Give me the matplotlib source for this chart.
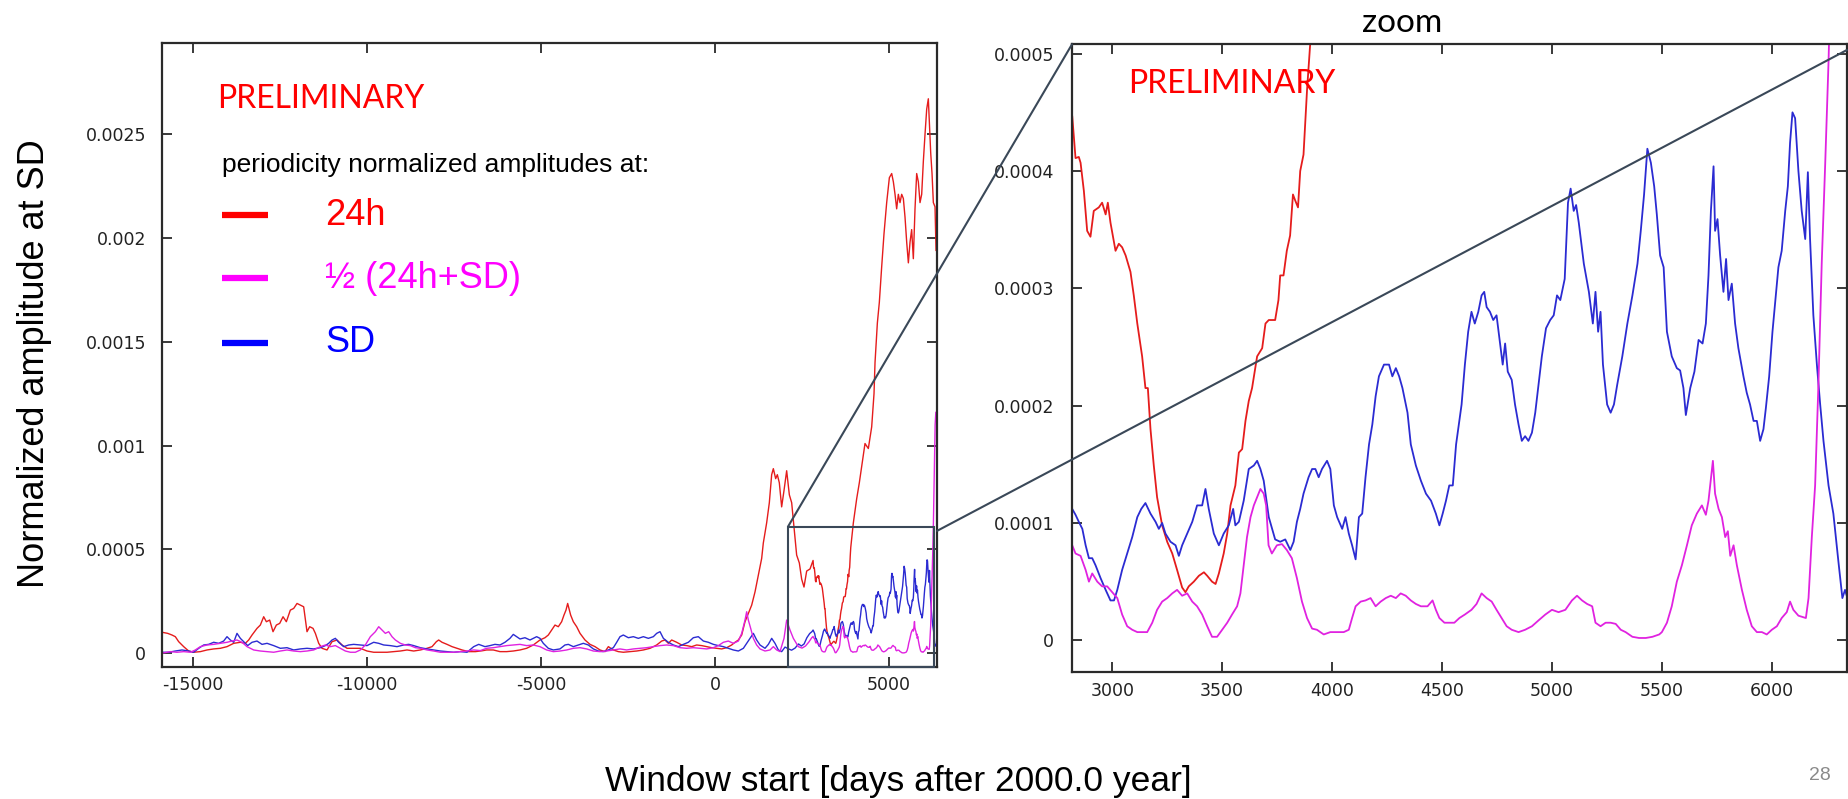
import matplotlib
matplotlib.use("Agg")
import numpy as np
import matplotlib.pyplot as plt
from matplotlib.patches import Rectangle, ConnectionPatch
from matplotlib.lines import Line2D

# amplitudes are given in units of 1e-4
AMP_UNIT = 1e-4

# --- 24h periodicity -------------------------------------------------------
days_24h = [
    -15850, -15728, -15604, -15508, -15412, -15268, -15125, -14981, -14789, -14598,
    -14406, -14214, -14023, -13831, -13640, -13496, -13400, -13304, -13161, -13065,
    -12969, -12892, -12797, -12701, -12605, -12509, -12413, -12318, -12203, -12107,
    -12011, -11915, -11820, -11724, -11647, -11551, -11484, -11388, -11292, -11149,
    -11005, -10861, -10718, -10574, -10382, -10191, -10000, -9808, -9616, -9425,
    -9233, -9042, -8850, -8658, -8467, -8275, -8131, -8007, -7940, -7844,
    -7700, -7557, -7413, -7269, -7078, -6886, -6695, -6562, -6371, -6179,
    -5988, -5796, -5604, -5413, -5221, -5030, -4886, -4790, -4694, -4598,
    -4503, -4407, -4340, -4282, -4234, -4186, -4148, -4071, -3975, -3879,
    -3736, -3592, -3448, -3305, -3161, -3065, -2921, -2778, -2634, -2442,
    -2251, -2059, -1867, -1676, -1532, -1437, -1341, -1245, -1101, -958,
    -814, -670, -527, -383, -239, -96, 48, 192, 335, 479,
    575, 671, 767, 862, 958, 1054, 1150, 1246, 1341, 1388,
    1484, 1561, 1628, 1676, 1743, 1791, 1848, 1915, 1982, 2059,
    2136, 2203, 2279, 2346, 2423, 2490, 2557, 2634, 2730,
    2818, 2833, 2848, 2856, 2871, 2886, 2901, 2916, 2939, 2954,
    2970, 2980, 2992, 3015, 3030, 3045, 3061, 3083, 3098, 3114,
    3136, 3151, 3162, 3174, 3189, 3204, 3227, 3250, 3273, 3295,
    3318, 3333, 3348, 3371, 3394, 3417, 3432, 3454, 3470, 3485,
    3507, 3523, 3538, 3560, 3576, 3591, 3606, 3621, 3636, 3659,
    3682, 3697, 3712, 3741, 3756, 3764, 3779, 3794, 3809, 3822,
    3832, 3845, 3855, 3870, 3878, 3886, 3901,
    3975, 4071, 4147, 4214, 4310, 4406, 4502, 4569, 4598, 4665,
    4722, 4789, 4856, 4933, 5010, 5077, 5125, 5173, 5220, 5268,
    5316, 5364, 5412, 5460, 5508, 5556, 5604, 5651, 5699, 5747,
    5795, 5843, 5891, 5939, 5987, 6035, 6083, 6130, 6159, 6198,
    6236, 6274, 6322, 6351,
]
amp_24h = [
    1.00, 0.96, 0.88, 0.80, 0.56, 0.32, 0.11, 0.05, 0.08, 0.16,
    0.21, 0.24, 0.32, 0.48, 0.53, 0.48, 0.64, 0.88, 1.20, 1.36,
    1.76, 1.52, 1.60, 1.04, 1.36, 1.44, 1.76, 1.52, 2.08, 2.16,
    2.40, 2.32, 2.24, 1.04, 1.28, 1.20, 0.96, 0.48, 0.24, 0.16,
    0.56, 0.64, 0.40, 0.24, 0.24, 0.24, 0.11, 0.05, 0.05, 0.05,
    0.08, 0.11, 0.16, 0.11, 0.16, 0.24, 0.32, 0.56, 0.64, 0.53,
    0.43, 0.32, 0.24, 0.16, 0.08, 0.08, 0.12, 0.16, 0.16, 0.08,
    0.08, 0.11, 0.16, 0.24, 0.40, 0.64, 0.75, 0.88, 1.12, 1.36,
    1.28, 1.52, 1.84, 2.08, 2.40, 2.08, 1.84, 1.52, 1.28, 0.96,
    0.64, 0.43, 0.32, 0.16, 0.08, 0.32, 0.16, 0.08, 0.05, 0.08,
    0.11, 0.16, 0.24, 0.40, 0.59, 0.64, 0.48, 0.64, 0.53, 0.40,
    0.37, 0.32, 0.40, 0.37, 0.32, 0.27, 0.24, 0.21, 0.27, 0.40,
    0.53, 0.64, 0.88, 1.52, 1.92, 2.32, 2.96, 3.77, 4.57, 5.31,
    6.28, 7.25, 8.60, 8.89, 8.41, 8.60, 8.21, 7.05, 7.83, 8.79,
    7.63, 7.25, 5.89, 4.73, 4.35, 3.57, 3.19, 3.96, 4.06,
    4.47, 4.11, 4.12, 4.07, 3.83, 3.49, 3.44, 3.66, 3.69, 3.73,
    3.63, 3.73, 3.56, 3.32, 3.38, 3.35, 3.28, 3.14, 2.94, 2.70,
    2.42, 2.15, 2.15, 1.80, 1.49, 1.22, 0.98, 0.84, 0.74, 0.60,
    0.45, 0.41, 0.46, 0.50, 0.55, 0.58, 0.55, 0.50, 0.48, 0.57,
    0.74, 0.91, 1.15, 1.32, 1.60, 1.63, 1.87, 2.04, 2.15, 2.42,
    2.49, 2.70, 2.73, 2.73, 2.90, 3.11, 3.11, 3.32, 3.45, 3.80,
    3.75, 3.69, 4.00, 4.14, 4.42, 4.69, 5.10,
    6.28, 7.44, 8.21, 8.99, 10.1, 9.86, 10.9, 12.5, 14.0, 15.9,
    16.9, 18.6, 20.2, 21.7, 22.9, 23.1, 22.7, 22.1, 21.4, 22.1,
    21.7, 22.1, 21.9, 21.0, 19.8, 18.8, 19.8, 20.4, 19.0, 21.4,
    23.1, 22.7, 21.7, 22.1, 23.7, 25.0, 26.2, 26.7, 25.6, 24.1,
    23.1, 21.7, 21.5, 19.4,
]

# --- SD periodicity --------------------------------------------------------
days_sd = [
    -15850, -15699, -15508, -15316, -15125, -14981, -14837, -14693, -14550, -14406,
    -14262, -14119, -14023, -13927, -13831, -13736, -13640, -13544, -13429, -13304,
    -13161, -13017, -12873, -12682, -12490, -12299, -12107, -11915, -11724, -11532,
    -11340, -11197, -11101, -11005, -10909, -10814, -10670, -10526, -10382, -10191,
    -10000, -9808, -9664, -9520, -9329, -9138, -8946, -8802, -8658, -8467,
    -8275, -8083, -7892, -7700, -7509, -7317, -7125, -6934, -6790, -6610,
    -6467, -6323, -6179, -6036, -5892, -5796, -5700, -5604, -5461, -5317,
    -5221, -5125, -5030, -4934, -4790, -4646, -4455, -4311, -4215, -4071,
    -3927, -3783, -3640, -3496, -3353, -3209, -3065, -2921, -2825, -2730,
    -2634, -2490, -2346, -2203, -2059, -1915, -1772, -1676, -1580, -1484,
    -1341, -1197, -1054, -910, -766, -623, -479, -335, -192, -48,
    96, 240, 383, 527, 671, 815, 910, 1006, 1102, 1197,
    1293, 1437, 1533, 1629, 1724, 1820, 1916, 2012, 2100, 2200,
    2300, 2400, 2480, 2560, 2640, 2720, 2790,
    2818, 2833, 2848, 2864, 2879, 2894, 2909, 2924, 2947, 2970,
    2992, 3008, 3023, 3045, 3068, 3091, 3114, 3132, 3151, 3174,
    3197, 3212, 3227, 3242, 3265, 3288, 3303, 3318, 3341, 3364,
    3386, 3409, 3424, 3439, 3462, 3485, 3507, 3530, 3550, 3560,
    3576, 3598, 3621, 3644, 3659, 3674, 3689, 3712, 3741, 3764,
    3787, 3810, 3825, 3840, 3855, 3870, 3893, 3909, 3924, 3939,
    3954, 3977, 3992, 4008, 4023, 4046, 4061, 4076, 4091, 4107,
    4122, 4137, 4152, 4168, 4183, 4198, 4213, 4236, 4259, 4274,
    4290, 4305, 4320, 4343, 4358, 4381, 4404, 4427, 4450, 4472,
    4488, 4503, 4518, 4533, 4549, 4564, 4579, 4589, 4604, 4619,
    4634, 4649, 4665, 4680, 4692, 4703, 4718, 4733, 4748, 4764,
    4776, 4787, 4799, 4817, 4832, 4848, 4863, 4878, 4893, 4909,
    4924, 4939, 4954, 4973, 4992, 5008, 5023, 5038, 5058, 5073,
    5085, 5099, 5110, 5122, 5145, 5168, 5186, 5198, 5210, 5221,
    5232, 5251, 5267, 5282, 5297, 5320, 5343, 5366, 5389, 5404,
    5419, 5434, 5450, 5465, 5477, 5492, 5508, 5523, 5545, 5568,
    5583, 5598, 5609, 5629, 5648, 5667, 5685, 5700, 5712, 5723,
    5735, 5742, 5753, 5765, 5780, 5792, 5803, 5818, 5833, 5848,
    5871, 5886, 5901, 5917, 5932, 5947, 5962, 5973, 5988, 6003,
    6015, 6030, 6045, 6061, 6073, 6083, 6094, 6106, 6121, 6136,
    6152, 6164, 6174, 6189, 6205, 6220, 6235, 6258, 6280, 6303,
    6321, 6333, 6344,
]
amp_sd = [
    0.05, 0.05, 0.11, 0.16, 0.11, 0.05, 0.24, 0.40, 0.43, 0.53,
    0.48, 0.59, 0.80, 0.64, 0.53, 0.96, 0.72, 0.56, 0.37, 0.53,
    0.59, 0.43, 0.48, 0.37, 0.24, 0.27, 0.16, 0.21, 0.24, 0.21,
    0.27, 0.37, 0.48, 0.64, 0.72, 0.53, 0.32, 0.40, 0.43, 0.40,
    0.37, 0.53, 0.48, 0.40, 0.37, 0.32, 0.40, 0.43, 0.37, 0.27,
    0.21, 0.16, 0.11, 0.08, 0.05, 0.08, 0.05, 0.32, 0.43, 0.32,
    0.37, 0.43, 0.40, 0.53, 0.72, 0.91, 0.80, 0.69, 0.75, 0.64,
    0.72, 0.80, 0.72, 0.48, 0.24, 0.16, 0.21, 0.40, 0.43, 0.32,
    0.40, 0.48, 0.40, 0.21, 0.11, 0.08, 0.16, 0.27, 0.53, 0.80,
    0.88, 0.75, 0.80, 0.72, 0.80, 0.72, 0.80, 0.96, 1.04, 0.72,
    0.53, 0.40, 0.32, 0.43, 0.53, 0.75, 0.80, 0.59, 0.53, 0.43,
    0.37, 0.32, 0.24, 0.16, 0.11, 0.24, 0.48, 0.72, 0.96, 0.64,
    0.40, 0.24, 0.43, 0.72, 0.48, 0.16, 0.08, 0.30, 0.22, 0.15,
    0.25, 0.45, 0.35, 0.45, 0.75, 0.95, 1.05,
    1.12, 1.07, 1.01, 0.95, 0.81, 0.70, 0.70, 0.64, 0.53, 0.43,
    0.34, 0.34, 0.43, 0.60, 0.74, 0.88, 1.05, 1.12, 1.17, 1.08,
    1.01, 0.95, 1.00, 0.91, 0.84, 0.81, 0.72, 0.81, 0.91, 1.01,
    1.15, 1.15, 1.29, 1.12, 0.91, 0.81, 0.91, 0.98, 1.12, 0.98,
    1.01, 1.19, 1.46, 1.49, 1.53, 1.46, 1.36, 1.05, 0.86, 0.84,
    0.86, 0.77, 0.84, 1.01, 1.12, 1.25, 1.39, 1.46, 1.46, 1.39,
    1.46, 1.53, 1.46, 1.15, 1.05, 0.95, 1.05, 0.91, 0.81, 0.69,
    1.05, 1.08, 1.39, 1.67, 1.84, 2.08, 2.25, 2.35, 2.35, 2.25,
    2.32, 2.25, 2.15, 1.94, 1.67, 1.49, 1.36, 1.25, 1.19, 1.08,
    0.98, 1.08, 1.19, 1.32, 1.32, 1.67, 1.87, 2.01, 2.35, 2.63,
    2.80, 2.70, 2.80, 2.94, 2.97, 2.84, 2.80, 2.73, 2.77, 2.53,
    2.35, 2.53, 2.29, 2.22, 2.01, 1.84, 1.70, 1.74, 1.70, 1.77,
    1.94, 2.18, 2.42, 2.66, 2.73, 2.77, 2.94, 2.90, 3.08, 3.73,
    3.85, 3.66, 3.71, 3.56, 3.21, 2.97, 2.70, 2.97, 2.63, 2.80,
    2.35, 2.01, 1.94, 2.01, 2.18, 2.42, 2.70, 2.94, 3.21, 3.49,
    3.80, 4.19, 4.07, 3.87, 3.63, 3.28, 3.18, 2.63, 2.42, 2.32,
    2.30, 2.15, 1.92, 2.15, 2.29, 2.56, 2.53, 2.70, 3.11, 3.66,
    4.04, 3.49, 3.59, 3.28, 2.97, 3.25, 2.90, 3.04, 2.70, 2.49,
    2.25, 2.11, 2.01, 1.87, 1.87, 1.70, 1.80, 1.98, 2.25, 2.63,
    2.87, 3.18, 3.32, 3.66, 3.87, 4.24, 4.50, 4.45, 4.00, 3.66,
    3.42, 3.99, 3.42, 2.77, 2.35, 2.01, 1.70, 1.32, 1.08, 0.67,
    0.36, 0.43, 0.36,
]

# --- 1/2 (24h + SD) periodicity --------------------------------------------
days_half = [
    -15850, -15651, -15460, -15268, -15077, -14933, -14789, -14598, -14406, -14214,
    -14023, -13879, -13736, -13592, -13448, -13257, -13065, -12873, -12682, -12490,
    -12299, -12107, -11915, -11724, -11532, -11340, -11197, -11053, -10909, -10766,
    -10622, -10478, -10335, -10191, -10048, -9904, -9760, -9664, -9568, -9473,
    -9377, -9281, -9185, -9042, -8898, -8754, -8610, -8467, -8275, -8083,
    -7892, -7700, -7509, -7317, -7125, -6934, -6742, -6562, -6371, -6179,
    -5988, -5796, -5604, -5413, -5221, -5030, -4838, -4646, -4455, -4263,
    -4071, -3879, -3688, -3496, -3305, -3113, -2921, -2730, -2538, -2346,
    -2155, -1963, -1772, -1580, -1389, -1197, -1005, -814, -623, -431,
    -239, -48, 96, 240, 383, 527, 671, 767, 862, 910,
    958, 1025, 1102, 1197, 1293, 1437, 1581, 1676, 1772, 1868,
    1983, 2059, 2155, 2251, 2394, 2500, 2600, 2700, 2780,
    2818, 2833, 2856, 2879, 2894, 2909, 2932, 2954, 2977, 3000,
    3023, 3045, 3068, 3091, 3114, 3136, 3159, 3182, 3204, 3227,
    3250, 3273, 3295, 3318, 3341, 3364, 3386, 3409, 3432, 3454,
    3477, 3500, 3523, 3545, 3568, 3583, 3598, 3613, 3629, 3644,
    3659, 3674, 3689, 3700, 3711, 3726, 3749, 3772, 3794, 3817,
    3840, 3863, 3886, 3909, 3931, 3962, 3992, 4023, 4053, 4076,
    4091, 4107, 4130, 4152, 4175, 4198, 4221, 4244, 4267, 4290,
    4312, 4335, 4358, 4381, 4404, 4434, 4457, 4472, 4488, 4511,
    4533, 4556, 4579, 4604, 4634, 4657, 4680, 4703, 4726, 4748,
    4771, 4794, 4817, 4848, 4878, 4909, 4939, 4970, 5000, 5030,
    5061, 5091, 5114, 5137, 5160, 5183, 5198, 5221, 5244, 5267,
    5290, 5313, 5335, 5366, 5396, 5427, 5457, 5488, 5500, 5523,
    5545, 5568, 5591, 5614, 5636, 5659, 5682, 5700, 5712, 5732,
    5742, 5758, 5773, 5788, 5800, 5811, 5826, 5841, 5864, 5886,
    5909, 5932, 5955, 5977, 6000, 6023, 6045, 6068, 6083, 6098,
    6121, 6155, 6167, 6182, 6197, 6212, 6227, 6243, 6258, 6275,
    6300, 6325, 6345,
]
amp_half = [
    0.02, 0.08, 0.05, 0.08, 0.05, 0.16, 0.32, 0.40, 0.43, 0.48,
    0.53, 0.59, 0.64, 0.53, 0.32, 0.16, 0.11, 0.08, 0.05, 0.11,
    0.16, 0.11, 0.08, 0.11, 0.16, 0.32, 0.40, 0.32, 0.37, 0.24,
    0.11, 0.05, 0.05, 0.16, 0.40, 0.80, 1.04, 1.28, 1.12, 0.96,
    1.04, 0.80, 0.64, 0.48, 0.40, 0.37, 0.27, 0.24, 0.16, 0.11,
    0.05, 0.05, 0.05, 0.08, 0.11, 0.16, 0.13, 0.24, 0.27, 0.32,
    0.37, 0.40, 0.43, 0.37, 0.40, 0.32, 0.16, 0.08, 0.11, 0.16,
    0.24, 0.27, 0.21, 0.11, 0.08, 0.11, 0.16, 0.21, 0.16, 0.21,
    0.24, 0.27, 0.32, 0.37, 0.40, 0.37, 0.27, 0.24, 0.27, 0.24,
    0.21, 0.27, 0.37, 0.53, 0.59, 0.48, 0.59, 0.96, 1.60, 2.00,
    1.60, 1.20, 0.72, 0.40, 0.21, 0.11, 0.16, 0.32, 0.16, 0.08,
    0.72, 1.60, 1.12, 0.72, 0.32, 0.25, 0.35, 0.55, 0.75,
    0.81, 0.74, 0.72, 0.60, 0.50, 0.57, 0.50, 0.46, 0.46, 0.41,
    0.36, 0.22, 0.12, 0.09, 0.07, 0.07, 0.07, 0.15, 0.26, 0.33,
    0.36, 0.40, 0.43, 0.38, 0.40, 0.33, 0.29, 0.22, 0.12, 0.03,
    0.03, 0.09, 0.15, 0.22, 0.29, 0.40, 0.64, 0.88, 1.05, 1.15,
    1.22, 1.29, 1.25, 1.15, 0.81, 0.74, 0.81, 0.82, 0.77, 0.70,
    0.53, 0.33, 0.19, 0.10, 0.09, 0.05, 0.07, 0.07, 0.07, 0.09,
    0.19, 0.29, 0.33, 0.34, 0.36, 0.29, 0.33, 0.36, 0.38, 0.36,
    0.40, 0.38, 0.34, 0.31, 0.29, 0.29, 0.34, 0.26, 0.19, 0.15,
    0.15, 0.15, 0.19, 0.22, 0.26, 0.31, 0.40, 0.36, 0.33, 0.26,
    0.19, 0.12, 0.09, 0.07, 0.09, 0.12, 0.17, 0.22, 0.26, 0.24,
    0.26, 0.34, 0.38, 0.34, 0.31, 0.29, 0.15, 0.12, 0.15, 0.15,
    0.14, 0.09, 0.07, 0.03, 0.02, 0.02, 0.03, 0.05, 0.07, 0.15,
    0.29, 0.50, 0.64, 0.81, 0.98, 1.08, 1.15, 1.07, 1.19, 1.53,
    1.25, 1.12, 1.05, 0.88, 0.93, 0.72, 0.81, 0.64, 0.43, 0.26,
    0.12, 0.07, 0.07, 0.05, 0.09, 0.12, 0.19, 0.24, 0.33, 0.26,
    0.21, 0.19, 0.36, 0.88, 1.32, 2.18, 3.21, 4.07, 4.93, 6.20,
    8.50, 11.0, 11.6,
]

series = [
    (days_24h, amp_24h, "#e51c1c"),
    (days_sd, amp_sd, "#2b2bd2"),
    (days_half, amp_half, "#e022e0"),
]

full_xticks = [-15000, -10000, -5000, 0, 5000]
full_yticks = [0, 0.0005, 0.001, 0.0015, 0.002, 0.0025]
full_ylabels = ["0", "0.0005", "0.001", "0.0015", "0.002", "0.0025"]
zoom_xticks = [3000, 3500, 4000, 4500, 5000, 5500, 6000]
zoom_yticks = [0, 0.0001, 0.0002, 0.0003, 0.0004, 0.0005]
zoom_ylabels = ["0", "0.0001", "0.0002", "0.0003", "0.0004", "0.0005"]

W, H = 1849, 799
fig = plt.figure(figsize=(W / 100, H / 100), dpi=100)
fig.patch.set_facecolor("white")


def fx(px):
    return px / W


def fy(py):
    return 1 - py / H


ax_full = fig.add_axes([fx(162), fy(667), (937 - 162) / W, (667 - 42.7) / H])
ax_zoom = fig.add_axes([fx(1072), fy(672), (1847 - 1072) / W, (672 - 44.3) / H])

ax_full.set_xlim(-15891, 6379)
ax_full.set_ylim(-0.000066, 0.00294)
ax_zoom.set_xlim(2817, 6342)
ax_zoom.set_ylim(-0.000027, 0.000508)

for ax, lw, ypad, xpad in ((ax_full, 1.0, 11.5, 6.5), (ax_zoom, 1.3, 13.0, 7.5)):
    for d, a, c in series:
        ax.plot(d, np.asarray(a) * AMP_UNIT, color=c, lw=lw, zorder=2)
    for sp in ax.spines.values():
        sp.set_linewidth(1.6)
        sp.set_color("#2a2a2a")
    ax.tick_params(direction="in", length=7, width=1.3, top=True, right=True,
                   labelsize=12.5, colors="#2a2a2a", labelcolor="#222222")
    ax.tick_params(axis="y", pad=ypad)
    ax.tick_params(axis="x", pad=xpad)

ax_full.set_xticks(full_xticks, [str(t) for t in full_xticks])
ax_full.set_yticks(full_yticks, full_ylabels)
ax_zoom.set_xticks(zoom_xticks, [str(t) for t in zoom_xticks])
ax_zoom.set_yticks(zoom_yticks, zoom_ylabels)

# zoom window and connectors
frame_col = "#3a4858"
y0 = ax_full.get_ylim()[0]
rect_top = 0.00061
ax_full.add_patch(Rectangle((2098, y0), 6293 - 2098, rect_top - y0, fill=False,
                            edgecolor=frame_col, lw=1.5, zorder=5, clip_on=False))
con1 = ConnectionPatch(xyA=(2098, rect_top), coordsA=ax_full.transData,
                       xyB=(0.0, 1.0), coordsB=ax_zoom.transAxes,
                       color=frame_col, lw=1.5, zorder=6)
con2 = ConnectionPatch(xyA=(1.0, 0.218), coordsA=ax_full.transAxes,
                       xyB=(1.0, 0.991), coordsB=ax_zoom.transAxes,
                       color=frame_col, lw=1.5, zorder=6)
fig.add_artist(con1)
fig.add_artist(con2)

# annotations
fig.text(fx(217), fy(108), "PRELIMINARY", color="#ff0000", fontsize=23,
         family="Lato", ha="left", va="baseline")
fig.text(fx(1128), fy(93), "PRELIMINARY", color="#ff0000", fontsize=23,
         family="Lato", ha="left", va="baseline")
fig.text(fx(1402), fy(32), "zoom", color="black", fontsize=24,
         family="Lato", ha="center", va="baseline")
fig.text(fx(222), fy(172), "periodicity normalized amplitudes at:", color="black",
         fontsize=19, family="Liberation Sans", ha="left", va="baseline")

legend_rows = [
    ("24h", "#ff0000", 215, 225),
    ("\u00bd (24h+SD)", "#ff00ff", 278, 288),
    ("SD", "#0000ff", 343, 352),
]
for label, col, ybar, ybase in legend_rows:
    fig.add_artist(Line2D([fx(222), fx(268)], [fy(ybar), fy(ybar)],
                          color=col, lw=4.5, solid_capstyle="butt"))
    fig.text(fx(325), fy(ybase), label, color=col, fontsize=26,
             family="Liberation Sans", ha="left", va="baseline")

fig.text(fx(35), fy(364), "Normalized amplitude at SD", rotation=90,
         fontsize=26, family="Liberation Sans", ha="center", va="center")
fig.text(fx(898), fy(791), "Window start [days after 2000.0 year]",
         fontsize=25.5, family="Liberation Sans", ha="center", va="baseline")
fig.text(fx(1820), fy(775), "28", fontsize=14, color="#8a8a8a",
         family="Liberation Sans", ha="center", va="center")

fig.savefig("out.png", dpi=100, facecolor="white")
